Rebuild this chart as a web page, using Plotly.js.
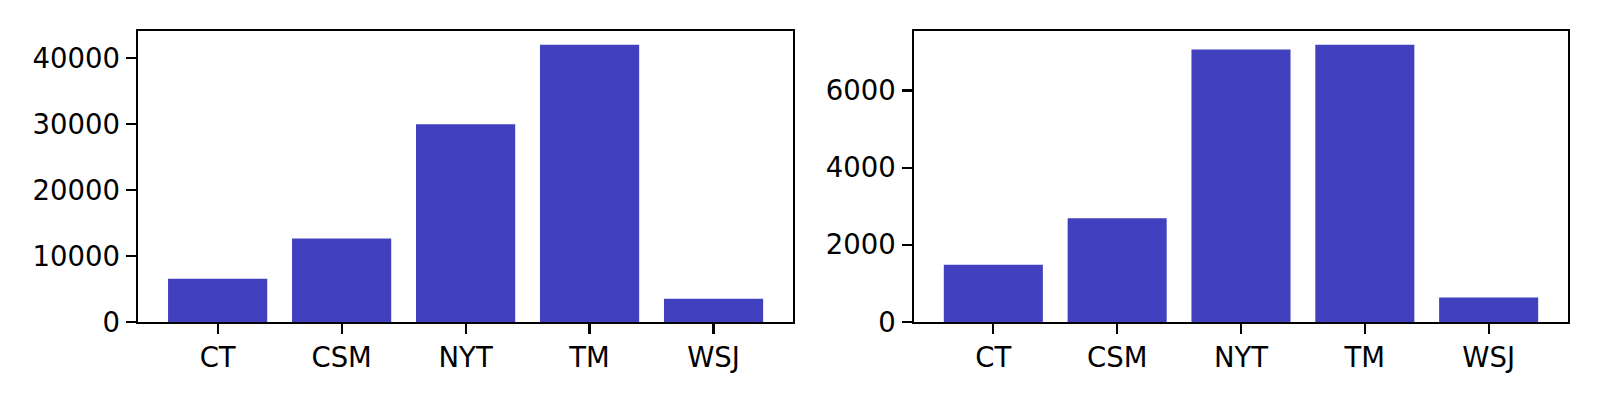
<!DOCTYPE html>
<html>
<head>
<meta charset="utf-8">
<script src="https://cdn.plot.ly/plotly-3.0.1.min.js"></script>
<style>html,body{margin:0;padding:0;background:#fff;}#chart{width:1600px;height:400px;}</style>
</head>
<body>
<div id="chart"></div>
<script>
const categories = ["CT", "CSM", "NYT", "TM", "WSJ"];
const leftValues = [6550, 12640, 30000, 42070, 3520];
const rightValues = [1480, 2690, 7060, 7188, 630];
const leftTicks = [0, 10000, 20000, 30000, 40000];
const rightTicks = [0, 2000, 4000, 6000];

const barColor = "rgb(65,64,191)";
const fontSpec = {family: "DejaVu Sans", size: 27.5, color: "#000"};

const traces = [
  {type: "bar", x: categories, y: leftValues, xaxis: "x", yaxis: "y",
   marker: {color: barColor, line: {width: 0}}, hoverinfo: "x+y"},
  {type: "bar", x: categories, y: rightValues, xaxis: "x2", yaxis: "y2",
   marker: {color: barColor, line: {width: 0}}, hoverinfo: "x+y"}
];

function xAxis(domain, anchor) {
  return {domain: domain, anchor: anchor, type: "category", range: [-0.64, 4.64],
    showline: true, mirror: true, linecolor: "#000", linewidth: 2.2,
    ticks: "outside", ticklen: 9.7, tickwidth: 2.2, tickcolor: "#000",
    showgrid: false, zeroline: false, tickfont: fontSpec, automargin: false,
    ticklabelstandoff: 0, fixedrange: true};
}
function yAxis(domain, anchor, vals, maxVal) {
  return {domain: domain, anchor: anchor, range: [0, maxVal * 1.05],
    tickvals: vals, ticktext: vals.map(String),
    showline: true, mirror: true, linecolor: "#000", linewidth: 2.2,
    ticks: "outside", ticklen: 9.7, tickwidth: 2.2, tickcolor: "#000",
    showgrid: false, zeroline: false, tickfont: fontSpec, automargin: false,
    ticklabelstandoff: 1, fixedrange: true};
}

const layout = {
  width: 1600, height: 400,
  margin: {l: 0, r: 0, t: 0, b: 0},
  paper_bgcolor: "#fff", plot_bgcolor: "#fff",
  showlegend: false, bargap: 0.2,
  font: fontSpec,
  xaxis: xAxis([0.08644, 0.49556], "y"),
  yaxis: yAxis([0.1953, 0.923], "x", leftTicks, Math.max(...leftValues)),
  xaxis2: xAxis([0.5713, 0.97994], "y2"),
  yaxis2: yAxis([0.1953, 0.923], "x2", rightTicks, Math.max(...rightValues))
};

Plotly.newPlot("chart", traces, layout, {displayModeBar: false, staticPlot: true});
</script>
</body>
</html>
